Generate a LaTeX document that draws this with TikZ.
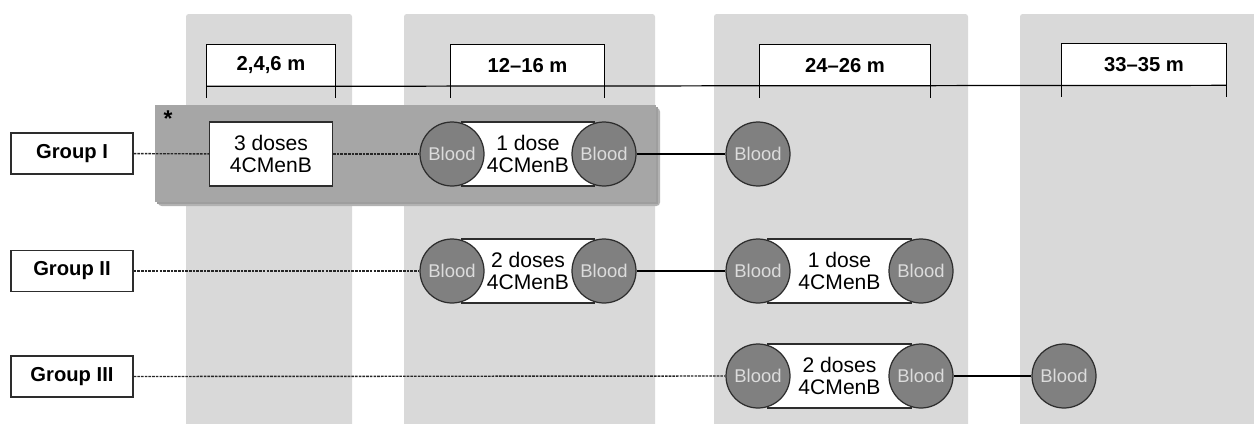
\documentclass[tikz,border=0pt]{standalone}
\usepackage{fontspec}
\setmainfont{Liberation Sans}
\definecolor{colgray}{RGB}{217,217,217}
\definecolor{shadegray}{RGB}{166,166,166}
\definecolor{bloodgray}{RGB}{128,128,128}
\definecolor{bloodtext}{RGB}{220,220,220}
\definecolor{edgegray}{RGB}{45,45,45}
\begin{document}
\begin{tikzpicture}[x=0.02cm,y=-0.02cm,
  colbg/.style={fill=colgray, draw=none, rounded corners=1.5pt},
  tlbox/.style={minimum height=0.82cm, inner sep=0pt, font=\bfseries\fontsize{11.5}{13}\selectfont},
  tl/.style={draw=black, line width=0.7pt},
  grp/.style={draw=edgegray, line width=0.8pt, fill=white, minimum width=2.44cm, minimum height=0.82cm, inner sep=0pt, font=\bfseries\fontsize{11.5}{13}\selectfont},
  dose/.style={draw=edgegray, line width=0.7pt, fill=white, minimum height=1.28cm, inner sep=0pt, align=center, font=\fontsize{12}{13}\selectfont},
  blood/.style={circle, draw=edgegray, line width=0.7pt, fill=bloodgray, minimum size=1.28cm, inner sep=0pt, text=bloodtext, font=\fontsize{10.5}{12}\selectfont},
  dashline/.style={draw=black!85, line width=0.8pt, dash pattern=on 1.5pt off 0.6pt},
  solidline/.style={draw=black, line width=0.7pt}
]
\useasboundingbox (0,0) rectangle (1254,423);
% columns
\fill[colbg] (186,14) rectangle (352,430);
\fill[colbg] (404,14) rectangle (655,430);
\fill[colbg] (714,14) rectangle (968,430);
\fill[colbg] (1020,14) rectangle (1262,430);
% timeline
\node[tlbox, minimum width=2.56cm, fill=white] (t1) at (271,65.5) {2,4,6 m};
\node[tlbox, minimum width=3.06cm, fill=white] (t2) at (527.5,65.5) {12–16 m};
\node[tlbox, minimum width=3.40cm, fill=white] (t3) at (845,65.5) {24–26 m};
\node[tlbox, minimum width=3.28cm, fill=white] (t4) at (1144,64.5) {33–35 m};
\foreach \t in {t1,t2,t3,t4}{
  \draw[tl] (\t.south west) -- (\t.north west) -- (\t.north east) -- (\t.south east);
  \draw[tl] (\t.south west) -- ++(0,12);
  \draw[tl] (\t.south east) -- ++(0,12);
}
\draw[tl] (t1.south west) -- (t4.south east);
% group I shade
\fill[black!30, rounded corners=2pt] (158,108) rectangle (660,206);
\fill[black!38] (157,107) rectangle (658,204);
\fill[shadegray] (155,105) rectangle (656,202);
\node[font=\bfseries\fontsize{13}{13}\selectfont, inner sep=0pt] (star) at (168,119) {*};
% groups
\node[grp] (g1) at (72,153.5) {Group I};
\node[grp] (g2) at (72,271) {Group II};
\node[grp] (g3) at (72,376.5) {Group III};
% row 1
\node[dose, minimum width=2.46cm] (d1) at (271,154) {3 doses\\4CMenB};
\node[dose, minimum width=2.64cm] (d2) at (528,154) {1 dose\\4CMenB};
\node[blood] (b11) at (452,154) {Blood};
\node[blood] (b12) at (604,154) {Blood};
\node[blood] (b13) at (758,154) {Blood};
% row 2
\node[dose, minimum width=2.64cm] (d3) at (528,271) {2 doses\\4CMenB};
\node[blood] (b21) at (452,271) {Blood};
\node[blood] (b22) at (604,271) {Blood};
\node[dose, minimum width=2.86cm] (d4) at (839.5,271) {1 dose\\4CMenB};
\node[blood] (b23) at (758,271) {Blood};
\node[blood] (b24) at (921,271) {Blood};
% row 3
\node[dose, minimum width=2.86cm] (d5) at (839.5,376) {2 doses\\4CMenB};
\node[blood] (b31) at (758,376) {Blood};
\node[blood] (b32) at (921,376) {Blood};
\node[blood] (b33) at (1064,376) {Blood};
% connectors
\draw[dashline] (g1) -- (d1);
\draw[dashline] (d1) -- (b11);
\draw[solidline] (b12) -- (b13);
\draw[dashline] (g2) -- (b21);
\draw[solidline] (b22) -- (b23);
\draw[dashline] (g3.east) -- (b31.west);
\draw[solidline] (b32) -- (b33);
\end{tikzpicture}
\end{document}
